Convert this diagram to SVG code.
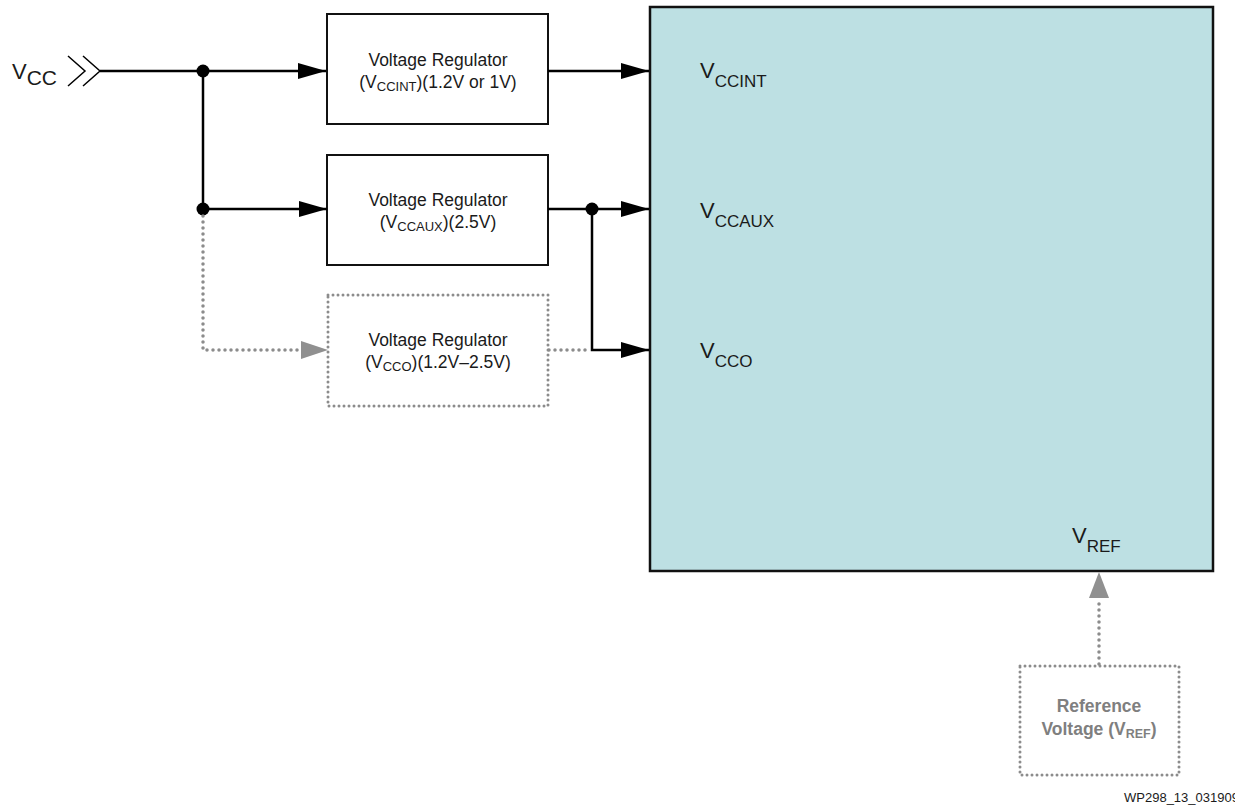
<svg xmlns="http://www.w3.org/2000/svg" width="1235" height="810" viewBox="0 0 1235 810">
  <style>
    text { font-family: "Liberation Sans", Arial, sans-serif; fill: #1a1a1a; }
    .box { fill: #ffffff; stroke: #111111; stroke-width: 2; }
    .dbox { fill: #ffffff; stroke: #8c8c8c; stroke-width: 3; stroke-dasharray: 0 5; stroke-linecap: round; }
    .wire { fill: none; stroke: #000000; stroke-width: 2.5; }
    .dwire { fill: none; stroke: #8c8c8c; stroke-width: 3.5; stroke-dasharray: 0 6; stroke-linecap: round; }
    .lbl { font-size: 17.5px; text-anchor: middle; }
    .pin { font-size: 22px; }
    .grey { fill: #7f7f7f; }
  </style>
  <defs>
    <marker id="arrow" viewBox="0 0 28 16" refX="28" refY="8" markerWidth="28" markerHeight="16" markerUnits="userSpaceOnUse" orient="auto">
      <path d="M0,0 L28,8 L0,16 Z" fill="#000000"/>
    </marker>
  </defs>

  <!-- FPGA device body -->
  <g id="device">
    <rect x="650" y="7" width="563" height="564" fill="#bde0e3" stroke="#111111" stroke-width="2.5"/>
    <text class="pin" x="700" y="78">V<tspan font-size="17" dy="9">CCINT</tspan></text>
    <text class="pin" x="700" y="218">V<tspan font-size="17" dy="9">CCAUX</tspan></text>
    <text class="pin" x="700" y="358">V<tspan font-size="17" dy="9">CCO</tspan></text>
    <text class="pin" x="1072" y="543">V<tspan font-size="17" dy="9">REF</tspan></text>
  </g>

  <!-- supply input -->
  <g id="vcc-input">
    <text class="pin" x="12" y="79">V<tspan font-size="21" dy="6">CC</tspan></text>
    <path d="M68,56 L85,71 L68,86 M83,56 L100,71 L83,86" fill="none" stroke="#000000" stroke-width="1.5"/>
  </g>

  <g id="reg-vccint">
    <rect class="box" x="327" y="14" width="221" height="110"/>
    <text class="lbl" x="438" y="66">Voltage Regulator</text>
    <text class="lbl" x="438" y="88">(V<tspan font-size="13" dy="3">CCINT</tspan><tspan dy="-3">)(1.2V or 1V)</tspan></text>
  </g>

  <g id="reg-vccaux">
    <rect class="box" x="327" y="155" width="221" height="110"/>
    <text class="lbl" x="438" y="206">Voltage Regulator</text>
    <text class="lbl" x="438" y="228">(V<tspan font-size="13" dy="3">CCAUX</tspan><tspan dy="-3">)(2.5V)</tspan></text>
  </g>

  <g id="reg-vcco">
    <rect class="dbox" x="328" y="295" width="220" height="111"/>
    <text class="lbl" x="438" y="346">Voltage Regulator</text>
    <text class="lbl" x="438" y="368">(V<tspan font-size="13" dy="3">CCO</tspan><tspan dy="-3">)(1.2V–2.5V)</tspan></text>
  </g>

  <g id="ref-voltage">
    <rect class="dbox" x="1020" y="666" width="159" height="109"/>
    <text class="lbl grey" x="1099" y="712" font-size="16.5" font-weight="bold">Reference</text>
    <text class="lbl grey" x="1099" y="735" font-size="16.5" font-weight="bold">Voltage (V<tspan font-size="12.5" dy="3">REF</tspan><tspan dy="-3">)</tspan></text>
  </g>

  <g id="connectors">
    <!-- solid supply wiring -->
    <path class="wire" d="M100,71 H326" marker-end="url(#arrow)"/>
    <path class="wire" d="M203,71 V209"/>
    <path class="wire" d="M203,209 H327" marker-end="url(#arrow)"/>
    <path class="wire" d="M548,71 H649" marker-end="url(#arrow)"/>
    <path class="wire" d="M548,209 H649" marker-end="url(#arrow)"/>
    <path class="wire" d="M592,209 V350 H649" marker-end="url(#arrow)"/>
    <circle cx="203" cy="71" r="6.5" fill="#000000"/>
    <circle cx="203" cy="209" r="6.5" fill="#000000"/>
    <circle cx="592" cy="209" r="6.5" fill="#000000"/>
    <!-- optional (dotted) paths -->
    <path class="dwire" d="M203,216 V350 H302"/>
    <path d="M301,341 L328,350 L301,359 Z" fill="#909090"/>
    <path class="dwire" d="M549,350 H590"/>
    <path class="dwire" d="M1099,664 V598"/>
    <path d="M1089,598 L1099,572 L1109,598 Z" fill="#909090"/>
  </g>

  <text x="1124" y="802" font-size="13">WP298_13_031909</text>
</svg>
